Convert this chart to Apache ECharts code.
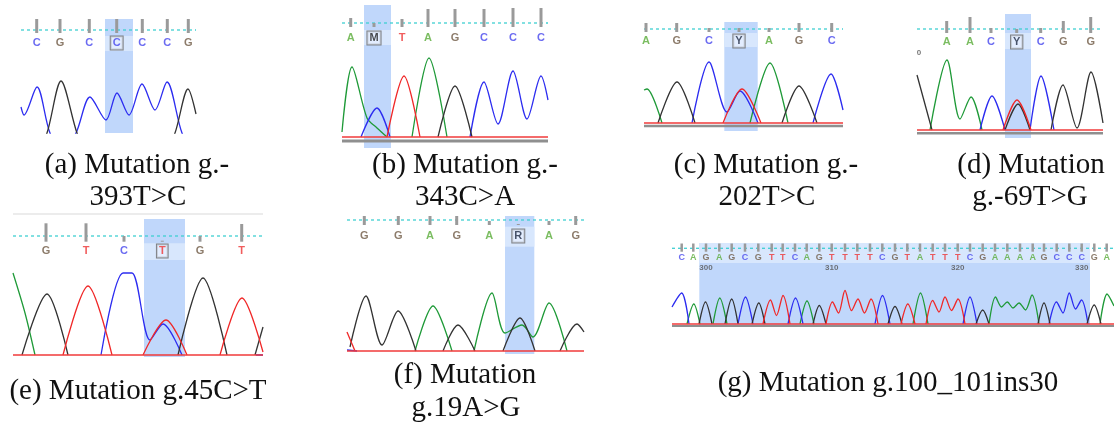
<!DOCTYPE html>
<html><head><meta charset="utf-8">
<script src="https://cdn.jsdelivr.net/npm/echarts@6/dist/echarts.min.js"></script>
<style>html,body{margin:0;padding:0;background:#fff}#c{width:1114px;height:423px}</style>
</head><body><div id="c"></div>
<script>
// ---------- DATA (scan position, signal intensity above baseline) ----------
// Panel (a) g.-393T>C
const aBases = ['C','G','C','C','C','C','G'];
const aBasePos = [15.7,39,68.3,95.7,121.3,146.3,167.3];
const aQual = [121,121,121,121,121,121,121];
const aMut = 3;
const aHighlight = [84,112];
const aTraceA = [];
const aTraceC = [[[0,33],[3,25],[16,53],[29,7],[42,-10],[55,7],[69,43],[85,20],[96,47],[108,25],[121,56],[134,30],[146,58],[161,7],[172,-10]]];
const aTraceG = [[[16,-12],[26,7],[40,59],[56,7],[66,-12]],[[144,-12],[154,7],[167,51],[175,26]]];
const aTraceT = [];

// Panel (b) g.-343C>A
const bBases = ['A','M','T','A','G','C','C','C'];
const bBasePos = [8.7,32,60,86,113,142,171,199];
const bQual = [119,114,118,128,128,128,129,129];
const bMut = 1;
const bHighlight = [22,49];
const bTraceA = [[[0,5],[10,70],[25,19],[35,9],[45,0]],[[70,0],[87,79],[105,0]]];
const bTraceC = [[[19,0],[35,29],[48,0]],[[128,0],[142,55],[156,13],[171,66],[185,18],[199,61],[206,37]]];
const bTraceG = [[[96,0],[113,51],[130,0]]];
const bTraceT = [[[45,0],[62,61],[78,0]]];

// Panel (c) g.-202T>C
const cBases = ['A','G','C','Y','A','G','C'];
const cBasePos = [2,32.7,65,95,125,155,187.7];
const cQual = [100,100,95,95,95,100,100];
const cMut = 3;
const cHighlight = [80.3,113.7];
const cTraceA = [[[0,33],[3,34],[18,0]],[[106,0],[126,60],[144,0]]];
const cTraceC = [[[48,0],[65,61],[83,11],[96,32],[114,0]],[[169,0],[187,49],[199,13]]];
const cTraceG = [[[14,0],[33,41],[51,0]],[[138,0],[155,37],[173,0]]];
const cTraceT = [[[79,0],[98,34],[117,0]]];

// Panel (d) g.-69T>G
const dBases = ['A','A','C','Y','C','G','G'];
const dBasePos = [29.7,53,74,99.7,123.7,146.3,173.7];
const dQual = [109,113,102,101,102,109,113];
const dMut = 3;
const dHighlight = [88,114];
const dNumbers = [[2,'0']];
const dTraceA = [[[13,0],[30,70],[43,11],[54,33],[65,0]]];
const dTraceC = [[[63,0],[75,34],[88,0]],[[113,0],[124,54],[137,0]]];
const dTraceG = [[[0,55],[15,0]],[[88,0],[101,26],[113,0]],[[134,0],[146,45],[160,2],[174,58],[186,7]]];
const dTraceT = [[[86,0],[100,30],[114,0]]];

// Panel (e) g.45C>T
const eBases = ['G','T','C','T','G','T'];
const eBasePos = [33,73,111,149.3,187,228.7];
const eQual = [131.7,131.7,119,114.3,119,131];
const eMut = 3;
const eHighlight = [131,172];
const eTraceA = [[[0,82],[12,42],[22,0]]];
const eTraceC = [[[88,0],[110,82],[119,82],[137,15],[150,31],[169,0]],[[243,0],[250,0]]];
const eTraceG = [[[9,0],[34,61],[55,0]],[[165,0],[190,77],[214,0]],[[242,0],[250,28]]];
const eTraceT = [[[50,0],[75,69],[99,0]],[[130,0],[153,35],[174,0]],[[207,0],[229,57],[250,3]]];

// Panel (f) g.19A>G
const fBases = ['G','G','A','G','A','R','A','G'];
const fBasePos = [17.3,51.3,83,109.7,142.3,171.3,202,228.7];
const fQual = [135,135,135,135,130,127,130,135];
const fMut = 5;
const fHighlight = [158,187.3];
const fTraceA = [[[68,0],[86,45],[105,0]],[[127,0],[145,58],[158,18],[175,26],[186,14],[202,48],[220,0]]];
const fTraceC = [[[0,1],[10,0]]];
const fTraceG = [[[3,4],[19,55],[35,6],[51,40],[69,0]],[[96,0],[111,26],[128,0]],[[156,0],[173,33],[188,0]],[[213,0],[230,27],[237,19]]];
const fTraceT = [[[0,19],[8,0]]];

// Panel (g) g.100_101ins30
const gBases = ['C','A','G','A','G','C','G','T','T','C','A','G','T','T','T','T','C','G','T','A','T','T','T','C','G','A','A','A','A','G','C','C','C','G','A'];
const gBasePos = [9.7,21.3,34,47.3,59.7,73,86.3,99.7,110.7,123,134.7,147.3,159.7,173,185.3,198,210.3,223,235.3,248,260.7,273,285.7,298,310.7,323,335.3,348,360.7,372,384.7,397.3,409.7,422.3,434.7];
const gQual = [80.5,80.5,80.5,80.5,80.5,80.5,80.5,80.5,80.5,80.5,80.5,80.5,80.5,80.5,80.5,80.5,80.5,80.5,80.5,80.5,80.5,80.5,80.5,80.5,80.5,80.5,80.5,80.5,80.5,80.5,80.5,80.5,80.5,80.5,80.5];
const gMut = -1;
const gHighlight = [27.3,418];
const gNumbers = [[34,'300'],[159.7,'310'],[285.7,'320'],[409.7,'330']];
const gTraceC = [[[0,17],[9.7,31],[17,0]],[[66,0],[73.5,27],[81,0]],[[116,0],[123.5,26],[131,0]],[[203,0],[210.5,28.5],[218,0]],[[291,0],[298,27],[305,0]],[[377,0],[384.5,22],[391,11],[397.3,31],[403.5,15],[409.5,24],[416,0]]];
const gTraceA = [[[15,0],[21.8,20],[28,0]],[[41,0],[47.8,26],[55,0]],[[128,0],[135,23],[142,0]],[[241,0],[248.5,31],[256,0]],[[317,0],[323.5,27],[329.5,17],[335.3,22],[341,16],[347,21],[353.5,14],[360,29],[367,0]],[[428,0],[435,30],[442,18]]];
const gTraceG = [[[27,0],[33.5,22],[40,0]],[[53,0],[59.7,25],[66,0]],[[80,0],[86.8,21],[93,0]],[[141,0],[147.3,18.5],[154,0]],[[216,0],[223,17.5],[230,0]],[[304,0],[310.7,14],[317,0]],[[366,0],[372,21],[378,0]],[[415,0],[422.2,19],[429,0]]];
const gTraceT = [[[91,0],[98.5,24],[104.5,8.5],[111,28.5],[118,0]],[[154,0],[160.5,22],[166.5,11],[173,33.5],[179.5,13.5],[186,25],[192.5,11],[199,25],[206,0]],[[229,0],[235.8,20],[243,0]],[[254,0],[260.7,23.5],[267,12],[273,27],[279.5,13.5],[286,25],[293,0]]];

// Captions
const captions = [
  ['(a) Mutation g.-',137,165],['393T>C',138,197],
  ['(b) Mutation g.-',465,165],['343C>A',465,197],
  ['(c) Mutation g.-',766,165],['202T>C',767,197],
  ['(d) Mutation',1031,165],['g.-69T>G',1030,197],
  ['(e) Mutation g.45C>T',138,391],
  ['(f) Mutation',465,375],['g.19A>G',466,408],
  ['(g) Mutation g.100_101ins30',888,383]
];

// ---------- LAYOUT / STYLE ----------
const TRACE_COLORS = {A:'#1f9a38', C:'#2c2cf0', G:'#333333', T:'#f02828'};
const LETTER_COLORS = {A:'#5aac3a', C:'#4646ee', G:'#6f5a45', T:'#ee3434', M:'#1e1e1e', Y:'#1e2a44', R:'#1e2a44'};

const panels = [
  {left:21, top:19, width:175, height:114, yMin:7, yMax:121, tickBottom:107, dashY:110, letterY:97, band:[89,104], baseline:false, under:null,
   bases:aBases, pos:aBasePos, qual:aQual, mut:aMut, hl:aHighlight, traces:{A:aTraceA,C:aTraceC,G:aTraceG,T:aTraceT}},
  {left:342, top:5, width:206, height:143, yMin:-11, yMax:132, tickBottom:110, dashY:114, letterY:99, band:[92,107], baseline:true, under:-4, underW:3,
   bases:bBases, pos:bBasePos, qual:bQual, mut:bMut, hl:bHighlight, traces:{A:bTraceA,C:bTraceC,G:bTraceG,T:bTraceT}},
  {left:644, top:22, width:199, height:109, yMin:-8, yMax:101, tickBottom:91, dashY:94, letterY:82, band:[76,90], baseline:true, under:-3, underW:2.5,
   bases:cBases, pos:cBasePos, qual:cQual, mut:cMut, hl:cHighlight, traces:{A:cTraceA,C:cTraceC,G:cTraceG,T:cTraceT}},
  {left:917, top:14, width:186, height:124, yMin:-8, yMax:116, tickBottom:97, dashY:101, letterY:88, band:[81,97], baseline:true, under:-3.3, underW:2.5,
   bases:dBases, pos:dBasePos, qual:dQual, mut:dMut, hl:dHighlight, numbers:dNumbers, numberY:77, traces:{A:dTraceA,C:dTraceC,G:dTraceG,T:dTraceT}},
  {left:13, top:213, width:250, height:144, yMin:-2, yMax:142, tickBottom:113.3, dashY:119, letterY:104, band:[95,111.7], hlY:[-2,136], topLine:141, baseline:true, under:null,
   bases:eBases, pos:eBasePos, qual:eQual, mut:eMut, hl:eHighlight, traces:{A:eTraceA,C:eTraceC,G:eTraceG,T:eTraceT}},
  {left:347, top:216, width:237, height:138, yMin:-3, yMax:135, tickBottom:126, dashY:131, letterY:115, band:[104.3,124.3], baseline:true, under:null,
   bases:fBases, pos:fBasePos, qual:fQual, mut:fMut, hl:fHighlight, traces:{A:fTraceA,C:fTraceC,G:fTraceG,T:fTraceT}},
  {left:672, top:243, width:442, height:84, yMin:-3, yMax:81, tickBottom:72.3, dashY:75.7, letterY:66.7, band:[61,81], baseline:true, under:-2, underW:2, fontSize:9, tickW:2.5,
   bases:gBases, pos:gBasePos, qual:gQual, mut:gMut, hl:gHighlight, numbers:gNumbers, numberY:56.7, traces:{A:gTraceA,C:gTraceC,G:gTraceG,T:gTraceT}}
];

function rectItem(color){
  return function(params, api){
    const a = api.coord([api.value(0), api.value(3)]);
    const b = api.coord([api.value(1), api.value(2)]);
    return {type:'rect', shape:{x:a[0], y:a[1], width:b[0]-a[0], height:b[1]-a[1]}, style:{fill:color}};
  };
}

const grids = [], xAxes = [], yAxes = [], series = [];
panels.forEach((p, i) => {
  grids.push({left:p.left, top:p.top, width:p.width, height:p.height, containLabel:false});
  xAxes.push({type:'value', gridIndex:i, min:0, max:p.width, show:false});
  yAxes.push({type:'value', gridIndex:i, min:p.yMin, max:p.yMax, show:false});
  const ax = {xAxisIndex:i, yAxisIndex:i, silent:true, animation:false};
  const hy = p.hlY || [p.yMin, p.yMax];
  series.push(Object.assign({type:'custom', z:1, encode:{x:[0,1], y:[2,3]}, data:[[p.hl[0], p.hl[1], hy[0], hy[1]]], renderItem:rectItem('#c0d7fb')}, ax));
  series.push(Object.assign({type:'custom', z:2, encode:{x:[0,1], y:[2,3]}, data:[[p.hl[0], p.hl[1], p.band[0], p.band[1]]], renderItem:rectItem('#d8e7fd')}, ax));
  if (p.topLine != null) {
    series.push(Object.assign({type:'line', z:2, symbol:'none', data:[[0,p.topLine],[p.width,p.topLine]], lineStyle:{color:'#d9d9d9', width:1}}, ax));
  }
  ['A','C','G','T'].forEach(ch => {
    (p.traces[ch] || []).forEach(seg => {
      series.push(Object.assign({type:'line', z:3, symbol:'none', smooth:0.3, data:seg, lineStyle:{color:TRACE_COLORS[ch], width:1.3}}, ax));
    });
  });
  if (p.under != null) {
    series.push(Object.assign({type:'line', z:3, symbol:'none', data:[[0,p.under],[p.width,p.under]], lineStyle:{color:'#8f8f8f', width:p.underW}}, ax));
  }
  if (p.baseline) {
    series.push(Object.assign({type:'line', z:4, symbol:'none', data:[[0,0],[p.width,0]], lineStyle:{color:'#f03a3a', width:1.5}}, ax));
  }
  series.push(Object.assign({type:'line', z:5, symbol:'none', data:[[0,p.dashY],[p.width,p.dashY]], lineStyle:{color:'#3fcfd2', width:1.3, type:[3,3]}}, ax));
  const tw = p.tickW || 3;
  series.push(Object.assign({type:'custom', z:6, encode:{x:0, y:[1,2]},
    data:p.pos.map((x,k)=>[x, p.qual[k], p.tickBottom]),
    renderItem:function(params, api){
      const t = api.coord([api.value(0), api.value(1)]);
      const b = api.coord([api.value(0), api.value(2)]);
      return {type:'rect', shape:{x:t[0]-tw/2, y:t[1], width:tw, height:b[1]-t[1]}, style:{fill:'#9a9a9a'}};
    }}, ax));
  const fs = p.fontSize || 11;
  series.push(Object.assign({type:'scatter', z:8, symbolSize:1, clip:false, itemStyle:{color:'rgba(0,0,0,0)'},
    label:{show:true, position:'inside', formatter:'{b}', fontSize:fs, fontWeight:'bold', fontFamily:'Liberation Sans'},
    data:p.bases.map((b,k)=>{
      const lab = {color:LETTER_COLORS[b]};
      if (k === p.mut) Object.assign(lab, {borderColor:'#6a6a6a', borderWidth:1, padding:[1,2,0,2], lineHeight:12, backgroundColor:'rgba(232,241,255,0.85)'});
      return {value:[p.pos[k], p.letterY], name:b, label:lab};
    })}, ax));
  if (p.numbers) {
    series.push(Object.assign({type:'scatter', z:8, symbolSize:1, clip:false, itemStyle:{color:'rgba(0,0,0,0)'},
      label:{show:true, position:'inside', formatter:'{b}', fontSize:8, fontWeight:'bold', color:'#555', fontFamily:'Liberation Sans'},
      data:p.numbers.map(n=>({value:[n[0], p.numberY], name:n[1]}))}, ax));
  }
});

const graphics = captions.map(c => ({type:'text', silent:true, style:{text:c[0], x:c[1], y:c[2], font:'29px "Liberation Serif"', fill:'#111', textAlign:'center', textVerticalAlign:'middle', align:'center', verticalAlign:'middle'}}));

const chart = echarts.init(document.getElementById('c'), null, {renderer:'canvas'});
chart.setOption({backgroundColor:'#ffffff', animation:false, grid:grids, xAxis:xAxes, yAxis:yAxes, series:series, graphic:graphics});
</script></body></html>
